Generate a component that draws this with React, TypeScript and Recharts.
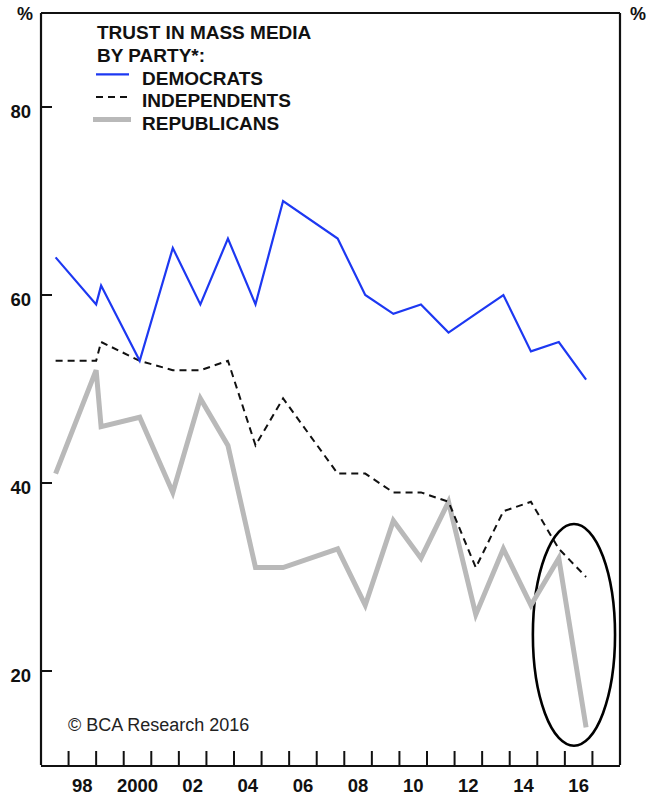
import React from 'react';
import { LineChart, Line, XAxis, YAxis, ReferenceArea } from 'recharts';

// Gallup survey dates (fractional year) and share trusting mass media, %
const SURVEY_DATES = [1997.53, 1999.0, 1999.18, 2000.58, 2001.78, 2002.78, 2003.78, 2004.78, 2005.78, 2007.76, 2008.76, 2009.78, 2010.78, 2011.78, 2012.77, 2013.77, 2014.77, 2015.78, 2016.77];
const DEMOCRATS = [64, 59, 61, 53, 65, 59, 66, 59, 70, 66, 60, 58, 59, 56, 58, 60, 54, 55, 51];
const INDEPENDENTS = [53, 53, 55, 53, 52, 52, 53, 44, 49, 41, 41, 39, 39, 38, 31, 37, 38, 33, 30];
const REPUBLICANS = [41, 52, 46, 47, 39, 49, 44, 31, 31, 33, 27, 36, 32, 38, 26, 33, 27, 32, 14];

const YEAR_TICKS = [1998, 1999, 2000, 2001, 2002, 2003, 2004, 2005, 2006, 2007, 2008, 2009, 2010, 2011, 2012, 2013, 2014, 2015, 2016, 2017];
const LABEL_TICKS = [1998.5, 2000.5, 2002.5, 2004.5, 2006.5, 2008.5, 2010.5, 2012.5, 2014.5, 2016.5];
const LABEL_TEXT = ['98', '2000', '02', '04', '06', '08', '10', '12', '14', '16'];
const Y_TICKS = [20, 40, 60, 80];

// ellipse drawn around the 2016 drop, in data units
const HIGHLIGHT = { x1: 2014.84, x2: 2017.82, y1: 12.05, y2: 35.64 };

const data = SURVEY_DATES.map((year, i) => ({
  year,
  dem: DEMOCRATS[i],
  ind: INDEPENDENTS[i],
  rep: REPUBLICANS[i],
}));

const FONT = '"Liberation Sans", Arial, Helvetica, sans-serif';
const INK = '#111';

const LeftTick = ({ x, y, payload }: any) => (
  <g>
    <line x1={x} y1={y} x2={x + 11} y2={y} stroke={INK} strokeWidth={2} />
    <text x={x - 10} y={y + 4} textAnchor="end" dominantBaseline="central"
      fontFamily={FONT} fontWeight="bold" fontSize={18.5} fill={INK}>{payload.value}</text>
  </g>
);

const RightTick = ({ x, y, payload }: any) => (
  <g>
    <line x1={x} y1={y} x2={x - 12} y2={y} stroke={INK} strokeWidth={2} />
    <text x={x + 10} y={y + 4} textAnchor="start" dominantBaseline="central"
      fontFamily={FONT} fontWeight="bold" fontSize={18.5} fill={INK}>{payload.value}</text>
  </g>
);

const YearTick = ({ x, y }: any) => (
  <line x1={x} y1={y} x2={x} y2={y - 15} stroke={INK} strokeWidth={2} />
);

const YearLabel = ({ x, y, payload }: any) => (
  <text x={x} y={y + 20} textAnchor="middle" dominantBaseline="central"
    fontFamily={FONT} fontWeight="bold" fontSize={18.5} fill={INK}>
    {LABEL_TEXT[LABEL_TICKS.indexOf(payload.value)]}
  </text>
);

const Ellipse = ({ x, y, width, height }: any) => (
  <ellipse cx={x + width / 2} cy={y + height / 2} rx={width / 2} ry={height / 2}
    fill="none" stroke="#000" strokeWidth={2.6} />
);

const SERIES = [
  { key: 'dem', name: 'DEMOCRATS', color: '#1d38f2', width: 2.2, dash: undefined as string | undefined },
  { key: 'ind', name: 'INDEPENDENTS', color: '#111', width: 2, dash: '7 5' },
  { key: 'rep', name: 'REPUBLICANS', color: '#b9b9b9', width: 5, dash: undefined },
];

const AXIS_LINE = { stroke: INK, strokeWidth: 2.2 };

export default function App() {
  return (
    <div style={{ position: 'absolute', left: 0, top: 0, width: 654, height: 796, background: '#fff' }}>
      <style>{'body{margin:0}'}</style>
      <LineChart width={654} height={796} data={data} margin={{ top: 12, right: 33, bottom: 29, left: 40 }}>
        <XAxis xAxisId="years" dataKey="year" type="number" domain={[1997, 2018]} allowDataOverflow
          ticks={YEAR_TICKS} interval={0} height={1} tickSize={0} tickMargin={0} tickLine={false}
          axisLine={AXIS_LINE} tick={YearTick} />
        <XAxis xAxisId="labels" dataKey="year" type="number" domain={[1997, 2018]} allowDataOverflow
          ticks={LABEL_TICKS} interval={0} height={1} tickSize={0} tickMargin={0} tickLine={false}
          axisLine={false} tick={YearLabel} />
        <XAxis xAxisId="top" orientation="top" dataKey="year" type="number" domain={[1997, 2018]}
          height={1} tick={false} tickLine={false} axisLine={AXIS_LINE} />
        <YAxis yAxisId="left" domain={[10, 90]} ticks={Y_TICKS} interval={0} width={1} tickSize={0}
          tickMargin={0} tickLine={false} axisLine={AXIS_LINE} tick={LeftTick} />
        <YAxis yAxisId="right" orientation="right" domain={[10, 90]} ticks={Y_TICKS} interval={0} width={1}
          tickSize={0} tickMargin={0} tickLine={false} axisLine={AXIS_LINE} tick={RightTick} />
        {SERIES.slice().reverse().map((s) => (
          <Line key={s.key} xAxisId="years" yAxisId="left" type="linear" dataKey={s.key} name={s.name}
            stroke={s.color} strokeWidth={s.width} strokeDasharray={s.dash} dot={false}
            activeDot={false} isAnimationActive={false} />
        ))}
        <ReferenceArea xAxisId="years" yAxisId="left" x1={HIGHLIGHT.x1} x2={HIGHLIGHT.x2}
          y1={HIGHLIGHT.y1} y2={HIGHLIGHT.y2} ifOverflow="visible" shape={Ellipse} />
      </LineChart>
      <svg width={654} height={796} style={{ position: 'absolute', left: 0, top: 0, pointerEvents: 'none' }}>
        <g fontFamily={FONT} fill={INK}>
          <text x={25} y={14} textAnchor="middle" dominantBaseline="central" fontWeight="bold" fontSize={18}>%</text>
          <text x={638} y={14} textAnchor="middle" dominantBaseline="central" fontWeight="bold" fontSize={18}>%</text>
          <text x={97} y={32.5} dominantBaseline="central" fontWeight="bold" fontSize={19}>TRUST IN MASS MEDIA</text>
          <text x={97} y={55} dominantBaseline="central" fontWeight="bold" fontSize={19}>BY PARTY*:</text>
          {SERIES.map((s, i) => {
            const cy = 78.3 + i * 22.6;
            return (
              <g key={s.key}>
                <line x1={s.key === 'rep' ? 93 : 96} x2={s.key === 'rep' ? 131 : 129} y1={cy - 4} y2={cy - 4}
                  stroke={s.color} strokeWidth={s.width} strokeDasharray={s.dash} />
                <text x={142} y={cy} dominantBaseline="central" fontWeight="bold" fontSize={19}>{s.name}</text>
              </g>
            );
          })}
          <text x={68} y={725} dominantBaseline="central" fontSize={18} fill="#222">© BCA Research 2016</text>
        </g>
      </svg>
    </div>
  );
}
